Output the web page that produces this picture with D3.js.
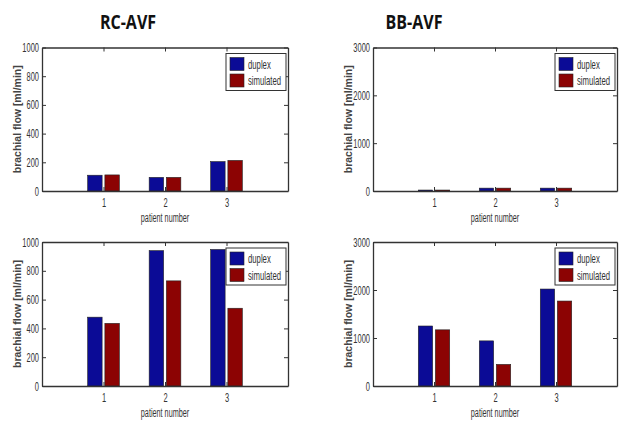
<!DOCTYPE html>
<html>
<head>
<meta charset="utf-8">
<script src="https://d3js.org/d3.v7.min.js"></script>
<style>
  body { margin: 0; background: #fff; }
  svg { display: block; }
</style>
</head>
<body>
<script>
// ---- data ----
const patients = [1, 2, 3];
const seriesNames = ["duplex", "simulated"];
const seriesColors = ["#0b0b96", "#8c0303"];

const rcTopDuplex = [110, 95, 205];
const rcTopSimulated = [112, 95, 213];
const rcBottomDuplex = [478, 940, 948];
const rcBottomSimulated = [435, 730, 540];

const bbTopDuplex = [20, 60, 60];
const bbTopSimulated = [20, 60, 60];
const bbBottomDuplex = [1250, 940, 2020];
const bbBottomSimulated = [1170, 450, 1770];

const rcTicks = [0, 200, 400, 600, 800, 1000];
const bbTicks = [0, 1000, 2000, 3000];

const titles = ["RC-AVF", "BB-AVF"];

const W = 626, H = 422;
const sans = '"Liberation Sans", Arial, sans-serif';

const svg = d3.select("body").append("svg").attr("width", W).attr("height", H);
svg.append("rect").attr("width", W).attr("height", H).attr("fill", "#fff");

// squeeze text horizontally (the original uses a narrow font)
function squeeze(sel, f) {
  sel.each(function () {
    const w = this.getComputedTextLength();
    d3.select(this).attr("textLength", w * f).attr("lengthAdjust", "spacingAndGlyphs");
  });
}

// panel layout: [left, right, top, bottom]
const panels = [
  { box: [42, 288, 47.5, 191], ymax: 1000, ticks: rcTicks, data: [rcTopDuplex, rcTopSimulated], labelX: 17 },
  { box: [373, 617, 47.5, 191], ymax: 3000, ticks: bbTicks, data: [bbTopDuplex, bbTopSimulated], labelX: 348 },
  { box: [42, 288, 242, 386], ymax: 1000, ticks: rcTicks, data: [rcBottomDuplex, rcBottomSimulated], labelX: 17 },
  { box: [373, 617, 242, 386], ymax: 3000, ticks: bbTicks, data: [bbBottomDuplex, bbBottomSimulated], labelX: 348 }
];

// titles
svg.selectAll(".title")
  .data(titles)
  .enter()
  .append("text")
  .attr("class", "title")
  .attr("x", (d, i) => (i === 0 ? 128 : 414))
  .attr("y", 29)
  .attr("text-anchor", "middle")
  .style("font-family", '"Open Sans", sans-serif')
  .style("font-weight", "bold")
  .style("font-size", "20px")
  .style("fill", "#111")
  .text((d) => d)
  .call(squeeze, 0.8);

panels.forEach(drawPanel);

function drawPanel(p) {
  const [x0, x1, y0, y1] = p.box;
  const g = svg.append("g");

  const x = d3.scaleLinear().domain([0, 4]).range([x0, x1]);
  const y = d3.scaleLinear().domain([0, p.ymax]).range([y1, y0]);

  // bars
  const offsets = [-0.14, 0.14];
  const bw = 0.235;
  p.data.forEach((vals, s) => {
    g.selectAll(".bar" + s)
      .data(vals)
      .enter()
      .append("rect")
      .attr("x", (d, i) => x(patients[i] + offsets[s] - bw / 2))
      .attr("width", x(bw) - x(0))
      .attr("y", (d) => y(d))
      .attr("height", (d) => y(0) - y(d))
      .attr("fill", seriesColors[s])
      .attr("stroke", "#222")
      .attr("stroke-width", 0.6);
  });

  // axes (MATLAB style box with inward ticks)
  const axisColor = "#333";
  const tl = 4;
  const left = d3.axisLeft(y).tickValues(p.ticks).tickSizeInner(-tl).tickSizeOuter(0).tickPadding(3).tickFormat(d3.format("d"));
  const right = d3.axisRight(y).tickValues(p.ticks).tickSizeInner(-tl).tickSizeOuter(0).tickFormat("");
  const bottom = d3.axisBottom(x).tickValues(patients).tickSizeInner(-tl).tickSizeOuter(0).tickPadding(7).tickFormat(d3.format("d"));
  const top = d3.axisTop(x).tickValues(patients).tickSizeInner(-tl).tickSizeOuter(0).tickFormat("");

  const axes = [
    g.append("g").attr("transform", `translate(${x0},0)`).call(left),
    g.append("g").attr("transform", `translate(${x1},0)`).call(right),
    g.append("g").attr("transform", `translate(0,${y1})`).call(bottom),
    g.append("g").attr("transform", `translate(0,${y0})`).call(top)
  ];
  axes.forEach((a) => {
    a.select(".domain").attr("stroke", axisColor).attr("stroke-width", 1.3);
    a.selectAll(".tick line").attr("stroke", axisColor).attr("stroke-width", 1);
    a.selectAll(".tick text")
      .style("font-family", sans)
      .style("font-size", "12.5px")
      .attr("fill", "#333")
      .call(squeeze, 0.6);
  });

  // y label
  g.append("text")
    .attr("transform", `translate(${p.labelX},${(y0 + y1) / 2}) rotate(-90)`)
    .attr("text-anchor", "middle")
    .attr("dy", "0.35em")
    .style("font-family", sans)
    .style("font-weight", "bold")
    .style("font-size", "10.5px")
    .style("fill", "#444")
    .text("brachial flow [ml/min]");

  // x label
  g.append("text")
    .attr("x", x(2))
    .attr("y", y1 + 31)
    .attr("text-anchor", "middle")
    .style("font-family", sans)
    .style("font-size", "12.5px")
    .style("fill", "#333")
    .text("patient number")
    .call(squeeze, 0.58);

  // legend
  const lw = 60, lh = 37;
  const lx = x1 - 2 - lw, ly = y0 + 6;
  const legend = g.append("g").attr("transform", `translate(${lx},${ly})`);
  legend.append("rect")
    .attr("width", lw)
    .attr("height", lh)
    .attr("fill", "#fff")
    .attr("stroke", "#333")
    .attr("stroke-width", 1);
  const items = legend.selectAll(".item")
    .data(seriesNames)
    .enter()
    .append("g")
    .attr("transform", (d, i) => `translate(4,${4 + i * 16.5})`);
  items.append("rect")
    .attr("width", 14)
    .attr("height", 13)
    .attr("fill", (d, i) => seriesColors[i])
    .attr("stroke", "#222")
    .attr("stroke-width", 0.6);
  // narrow legend labels by scaling the glyphs, so the box really holds them
  items.append("text")
    .attr("transform", "translate(18,11) scale(0.62,1)")
    .style("font-family", sans)
    .style("font-size", "12.5px")
    .style("fill", "#333")
    .text((d) => d);
}
</script>
</body>
</html>
